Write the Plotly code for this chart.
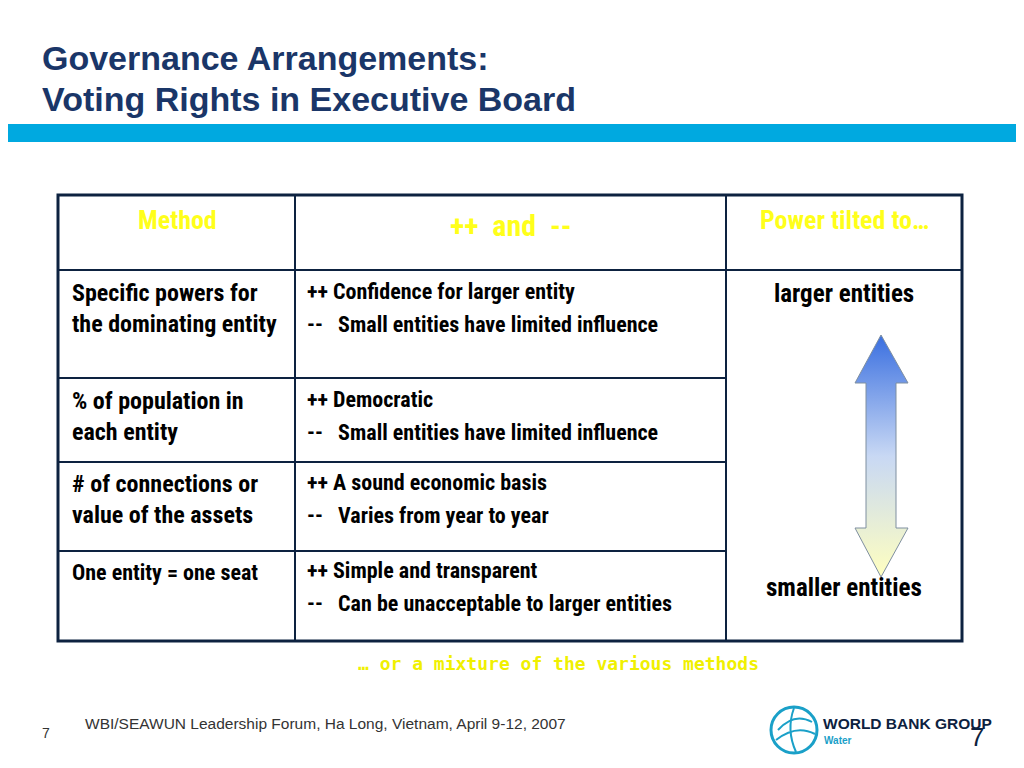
import plotly.graph_objects as go

title_lines = ["Governance Arrangements:", "Voting Rights in Executive Board"]
headers = ["Method", "++  and  --", "Power tilted to…"]
methods = [["Specific powers for", "the dominating entity"],
           ["% of population in", "each entity"],
           ["# of connections or", "value of the assets"],
           ["One entity = one seat"]]
pros = ["++ Confidence for larger entity", "++ Democratic",
        "++ A sound economic basis", "++ Simple and transparent"]
cons = ["--   Small entities have limited influence",
        "--   Small entities have limited influence",
        "--   Varies from year to year",
        "--   Can be unacceptable to larger entities"]
tilt = ["larger entities", "smaller entities"]
mixture = "… or a mixture of the various methods"
footer = "WBI/SEAWUN Leadership Forum, Ha Long, Vietnam, April 9-12, 2007"
page = "7"

NAVY = "#0d2240"
YEL = "#ffff1a"
NARROW = "Liberation Sans Narrow, Arial Narrow, Roboto Condensed, sans-serif"
SANS = "Liberation Sans, Arial, sans-serif"

fig = go.Figure()
shapes = []
ann = []

def text(x, y, s, size, color="#000", font=NARROW, xanchor="left", bold=True):
    ann.append(dict(x=x, y=y, text=f"<b>{s}</b>" if bold else s, showarrow=False,
                    xanchor=xanchor, yanchor="middle",
                    font=dict(size=size, color=color, family=font)))

# title
for i, t in enumerate(title_lines):
    text(40, 58 + i * 41, t, 34, "#1a3668", SANS)
shapes.append(dict(type="rect", x0=0, x1=1030, y0=124, y1=142, fillcolor="#00a9e0", line_width=0))

# table
L, C1, C2, R, T, B = 58, 295, 726, 962, 195, 641
row_y = [270, 378, 462, 551]
shapes.append(dict(type="rect", x0=L, x1=R, y0=T, y1=B, line=dict(color=NAVY, width=3)))
for x in (C1, C2):
    shapes.append(dict(type="line", x0=x, x1=x, y0=T, y1=B, line=dict(color=NAVY, width=2)))
for j, y in enumerate(row_y):
    shapes.append(dict(type="line", x0=L, x1=R if j == 0 else C2, y0=y, y1=y,
                       line=dict(color=NAVY, width=2)))

text(177, 220, headers[0], 26, YEL, xanchor="center")
text(511, 225, headers[1], 30, YEL, xanchor="center")
text(844, 220, headers[2], 26, YEL, xanchor="center")

tops = [293, 401, 484, 572]
for k, top in enumerate(tops):
    for i, line in enumerate(methods[k]):
        text(70, top + i * 31, line, 24 if len(methods[k]) > 1 else 22)
    text(305, top - 2, pros[k], 22)
    text(305, top + 31, cons[k], 22)

text(844, 293, tilt[0], 25, xanchor="center")
text(844, 587, tilt[1], 25, xanchor="center")

# double arrow with gradient
ax = [881, 908, 896, 896, 908, 881, 855, 866, 866, 855, 881]
ay = [335, 383, 383, 528, 528, 577, 528, 528, 383, 383, 335]
fig.add_trace(go.Scatter(x=ax, y=ay, fill="toself", mode="lines",
                         line=dict(color="#7f8fa0", width=1),
                         fillgradient=dict(type="vertical",
                                           colorscale=[[0, "#ffffc0"], [0.5, "#c8d8f4"], [1, "#3a6fe0"]]),
                         hoverinfo="skip", showlegend=False))

text(558, 663, mixture, 18, "#f0f000", "DejaVu Sans Mono, monospace", xanchor="center")
text(83, 723, footer, 15.5, "#333", SANS, bold=False)
text(40, 733, page, 14, "#333", SANS, bold=False)

# logo
shapes.append(dict(type="circle", x0=771, x1=817, y0=707, y1=753, line=dict(color="#1aa0c8", width=3)))
shapes.append(dict(type="path", path="M 778 730 Q 794 712 812 722 M 776 740 Q 796 724 815 734 M 794 708 Q 786 730 796 752",
                   line=dict(color="#1aa0c8", width=2)))
text(821, 723, "WORLD BANK GROUP", 15.5, NAVY, SANS)
text(822, 740, "Water", 10, "#1aa0c8", SANS)
text(968, 737, page, 26, NAVY, SANS, bold=False)

# ranges offset by the page's 8px body margin so coordinates match screen pixels
fig.update_layout(width=1024, height=768, margin=dict(l=0, r=0, t=0, b=0),
                  plot_bgcolor="white", paper_bgcolor="white",
                  xaxis=dict(range=[8, 1032], visible=False, fixedrange=True),
                  yaxis=dict(range=[776, 8], visible=False, fixedrange=True),
                  shapes=shapes, annotations=ann)
fig.write_html("out.html")
